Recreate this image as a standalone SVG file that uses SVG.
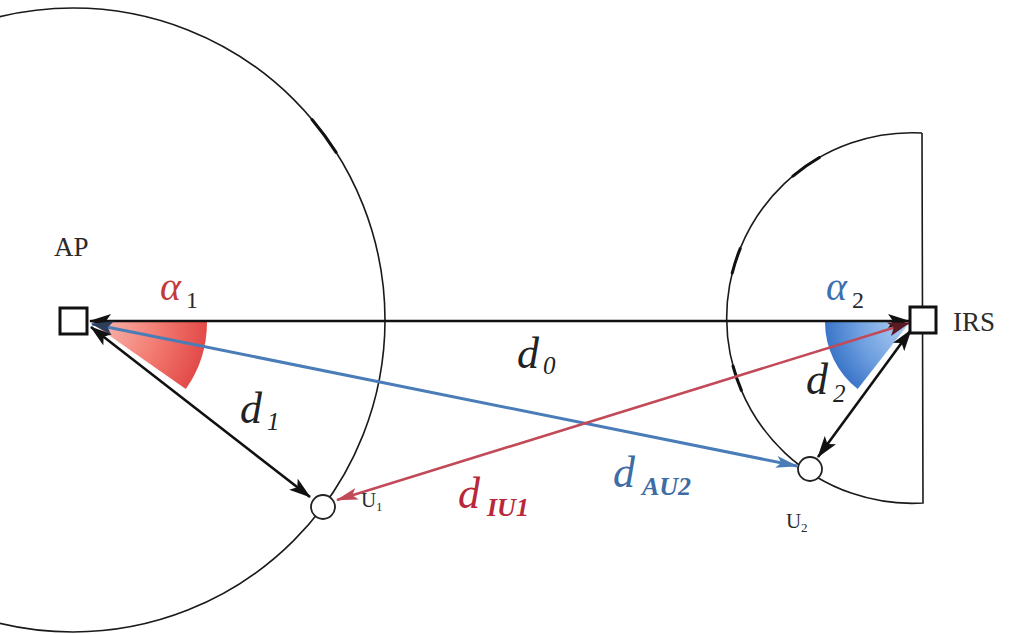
<svg xmlns="http://www.w3.org/2000/svg" width="1014" height="634" viewBox="0 0 1014 634">
<style>
.thin{fill:none;stroke:#1a1a1a;stroke-width:1.6}
.mark{fill:none;stroke:#111;stroke-width:3;stroke-linecap:round}
.blk{stroke:#111;stroke-width:2.6;fill:none}
.blu{stroke:#4a7db8;stroke-width:3;fill:none}
.red{stroke:#c24a58;stroke-width:2.6;fill:none}
.node{fill:#fff;stroke:#111;stroke-width:3}
.user{fill:#fff;stroke:#222;stroke-width:1.8}
.lbl{font-family:"Liberation Serif",serif;fill:#2a2a2a}
.math{font-family:"Liberation Serif",serif;font-style:italic}
</style>
<defs>
<marker id="ak" viewBox="0 0 22 14" refX="21" refY="7" markerWidth="22" markerHeight="14" markerUnits="userSpaceOnUse" orient="auto-start-reverse"><path d="M0,0 L22,7 L0,14 L5,7 z" fill="#111"/></marker>
<marker id="ab" viewBox="0 0 22 12" refX="21" refY="6" markerWidth="22" markerHeight="12" markerUnits="userSpaceOnUse" orient="auto"><path d="M0,0 L22,6 L0,12 L5,6 z" fill="#4a7db8"/></marker>
<marker id="abd" viewBox="0 0 22 14" refX="21" refY="7" markerWidth="22" markerHeight="14" markerUnits="userSpaceOnUse" orient="auto-start-reverse"><path d="M0,0 L22,7 L0,14 L5,7 z" fill="#2c3e5a"/></marker>
<marker id="ar" viewBox="0 0 22 12" refX="21" refY="6" markerWidth="22" markerHeight="12" markerUnits="userSpaceOnUse" orient="auto"><path d="M0,0 L22,6 L0,12 L5,6 z" fill="#c24a58"/></marker>
<marker id="ard" viewBox="0 0 22 14" refX="21" refY="7" markerWidth="22" markerHeight="14" markerUnits="userSpaceOnUse" orient="auto-start-reverse"><path d="M0,0 L22,7 L0,14 L5,7 z" fill="#5a1a22"/></marker>
<radialGradient id="gr" gradientUnits="userSpaceOnUse" cx="90" cy="322" r="117"><stop offset="0" stop-color="#f8c0b8"/><stop offset="0.6" stop-color="#f27a70"/><stop offset="1" stop-color="#e24a48"/></radialGradient>
<radialGradient id="gb" gradientUnits="userSpaceOnUse" cx="910" cy="322" r="86"><stop offset="0" stop-color="#b8d4f4"/><stop offset="0.6" stop-color="#6fa0e0"/><stop offset="1" stop-color="#3a74c8"/></radialGradient>
</defs>

<g id="regions">
<circle class="thin" cx="73" cy="320" r="312"/>
<path class="thin" d="M922,133 A185.3,185.3 0 1 0 923,503 L922,133"/>
<path class="mark" d="M312,119.5 A312,312 0 0 1 336.1,152.4"/>
<path class="mark" d="M792.9,176.1 A185.3,185.3 0 0 1 819.4,157.5"/>
<path class="mark" d="M732.2,273.2 A185.3,185.3 0 0 1 740.2,248.6"/>
<path class="mark" d="M733,366 A185.3,185.3 0 0 0 741.4,390.4"/>
</g>

<g id="angles">
<path d="M90,322 L207,322 A117,117 0 0 1 185.8,389.1 Z" fill="url(#gr)"/>
<path d="M910,322 L825,322 A85,85 0 0 0 857.7,389 Z" fill="url(#gb)"/>
</g>

<g id="connectors">
<line class="blk" x1="90" y1="321" x2="909" y2="321" marker-start="url(#ak)" marker-end="url(#ak)"/>
<line class="blk" x1="91" y1="327" x2="310" y2="497" marker-start="url(#ak)" marker-end="url(#ak)"/>
<line class="blk" x1="911" y1="330" x2="818" y2="457" marker-start="url(#ak)" marker-end="url(#ak)"/>
<line class="blu" x1="92" y1="324" x2="797" y2="466" marker-start="url(#abd)" marker-end="url(#ab)"/>
<line class="red" x1="909" y1="323" x2="337" y2="500" marker-start="url(#ard)" marker-end="url(#ar)"/>
</g>

<g id="AP">
<rect class="node" x="60" y="308" width="27" height="26"/>
<text class="lbl" x="54" y="256" font-size="27">AP</text>
</g>
<g id="IRS">
<rect class="node" x="910" y="307" width="26" height="26"/>
<text class="lbl" x="953" y="331" font-size="27">IRS</text>
</g>
<g id="U1">
<circle class="user" cx="323" cy="507" r="12"/>
<text class="lbl" x="361" y="507" font-size="21">U</text>
<text class="lbl" x="376" y="511" font-size="13">1</text>
</g>
<g id="U2">
<circle class="user" cx="810" cy="469" r="12"/>
<text class="lbl" x="786" y="528" font-size="21">U</text>
<text class="lbl" x="801" y="532" font-size="13">2</text>
</g>

<g id="labels">
<text class="math" x="160" y="300" font-size="40" fill="#c43a3a">α</text>
<text class="lbl" x="186" y="308" font-size="24" fill="#c43a3a">1</text>
<text class="math" x="826" y="300" font-size="40" fill="#3e70b0">α</text>
<text class="lbl" x="852" y="308" font-size="24" fill="#3e70b0">2</text>
<text class="math" x="517" y="368" font-size="44" fill="#222">d</text>
<text class="math" x="543" y="374" font-size="25" fill="#222">0</text>
<text class="math" x="240" y="423" font-size="44" fill="#222">d</text>
<text class="math" x="267" y="430" font-size="25" fill="#222">1</text>
<text class="math" x="806" y="394" font-size="44" fill="#222">d</text>
<text class="math" x="833" y="402" font-size="25" fill="#222">2</text>
<text class="math" x="458" y="508" font-size="44" fill="#b8283a">d</text>
<text class="math" x="487" y="516" font-size="26" fill="#b8283a" font-weight="bold">IU1</text>
<text class="math" x="613" y="487" font-size="44" fill="#3e6ca4">d</text>
<text class="math" x="642" y="495" font-size="26" fill="#3e6ca4" font-weight="bold">AU2</text>
</g>
</svg>
